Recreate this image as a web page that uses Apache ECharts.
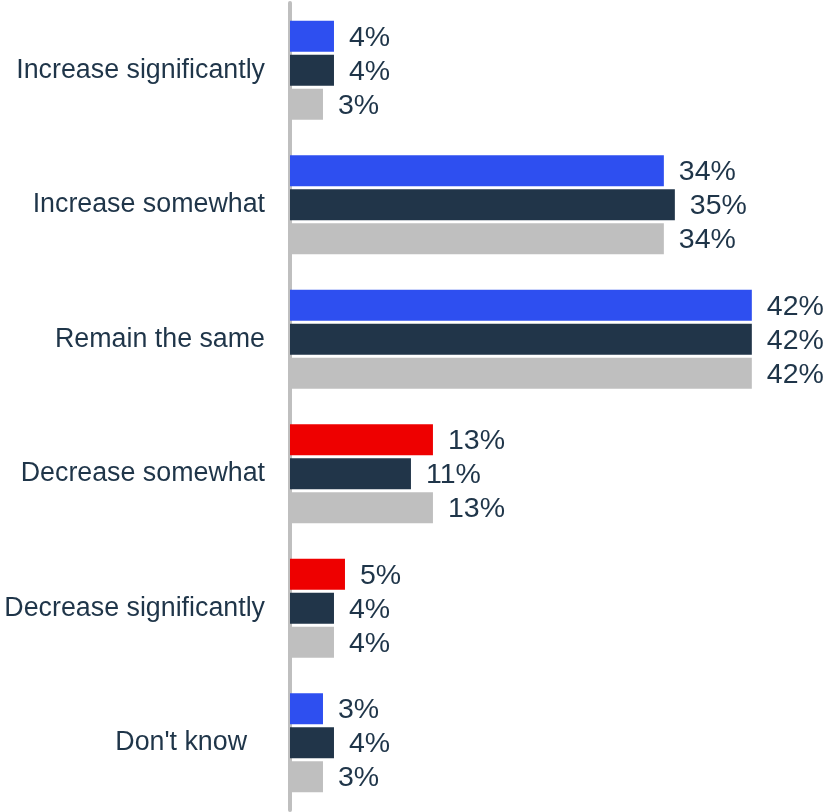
<!DOCTYPE html>
<html>
<head>
<meta charset="utf-8">
<script src="https://cdn.jsdelivr.net/npm/echarts@6/dist/echarts.min.js"></script>
<style>
  html, body { margin: 0; padding: 0; background: #ffffff; }
  #chart { width: 831px; height: 812px; }
</style>
</head>
<body>
<div id="chart"></div>
<script>
// Answer options, top to bottom
const categories = [
  'Increase significantly',
  'Increase somewhat',
  'Remain the same',
  'Decrease somewhat',
  'Decrease significantly',
  "Don't know"
];

// Percent shares for each of the three groups
const groupA = [4, 34, 42, 13, 5, 3];
const groupB = [4, 35, 42, 11, 4, 4];
const groupC = [3, 34, 42, 13, 4, 3];

const seriesNames = ['Group A', 'Group B', 'Group C'];

const FONT = 'Arial, "Liberation Sans", Helvetica, sans-serif';
const TEXT = '#1f3549';
const BLUE = '#2e4ff0';
const RED = '#ee0000';
const NAVY = '#213549';
const GREY = '#bfbfbf';

const chart = echarts.init(document.getElementById('chart'), null, { renderer: 'canvas' });

const valueLabel = {
  show: true,
  position: 'right',
  distance: 15,
  offset: [0, 1.5],
  formatter: '{c}%',
  color: TEXT,
  fontFamily: FONT,
  fontSize: 28.5
};

function barSeries(name, values, color) {
  return {
    name: name,
    type: 'bar',
    data: values,
    barWidth: 31,
    barGap: '10%',
    itemStyle: { color: color },
    label: valueLabel,
    animation: false
  };
}

// first group turns red on the "Decrease" answers
const firstColor = function (p) {
  return categories[p.dataIndex].indexOf('Decrease') === 0 ? RED : BLUE;
};

chart.setOption({
  animation: false,
  grid: { left: 290, right: 0, top: 3, bottom: 2, containLabel: false },
  xAxis: {
    type: 'value',
    min: 0,
    max: 49.2,
    show: false
  },
  yAxis: {
    type: 'category',
    inverse: true,
    offset: 3,
    data: categories.map(function (c) {
      return c === "Don't know"
        ? { value: c, textStyle: { padding: [0, 18, 0, 0] } }
        : c;
    }),
    axisLine: { show: true, lineStyle: { color: GREY, width: 4 } },
    axisTick: { show: false },
    axisLabel: {
      margin: 22,
      color: TEXT,
      fontFamily: FONT,
      fontSize: 26.8
    },
    splitLine: { show: false }
  },
  series: [
    barSeries(seriesNames[0], groupA, firstColor),
    barSeries(seriesNames[1], groupB, NAVY),
    barSeries(seriesNames[2], groupC, GREY)
  ]
});
</script>
</body>
</html>
